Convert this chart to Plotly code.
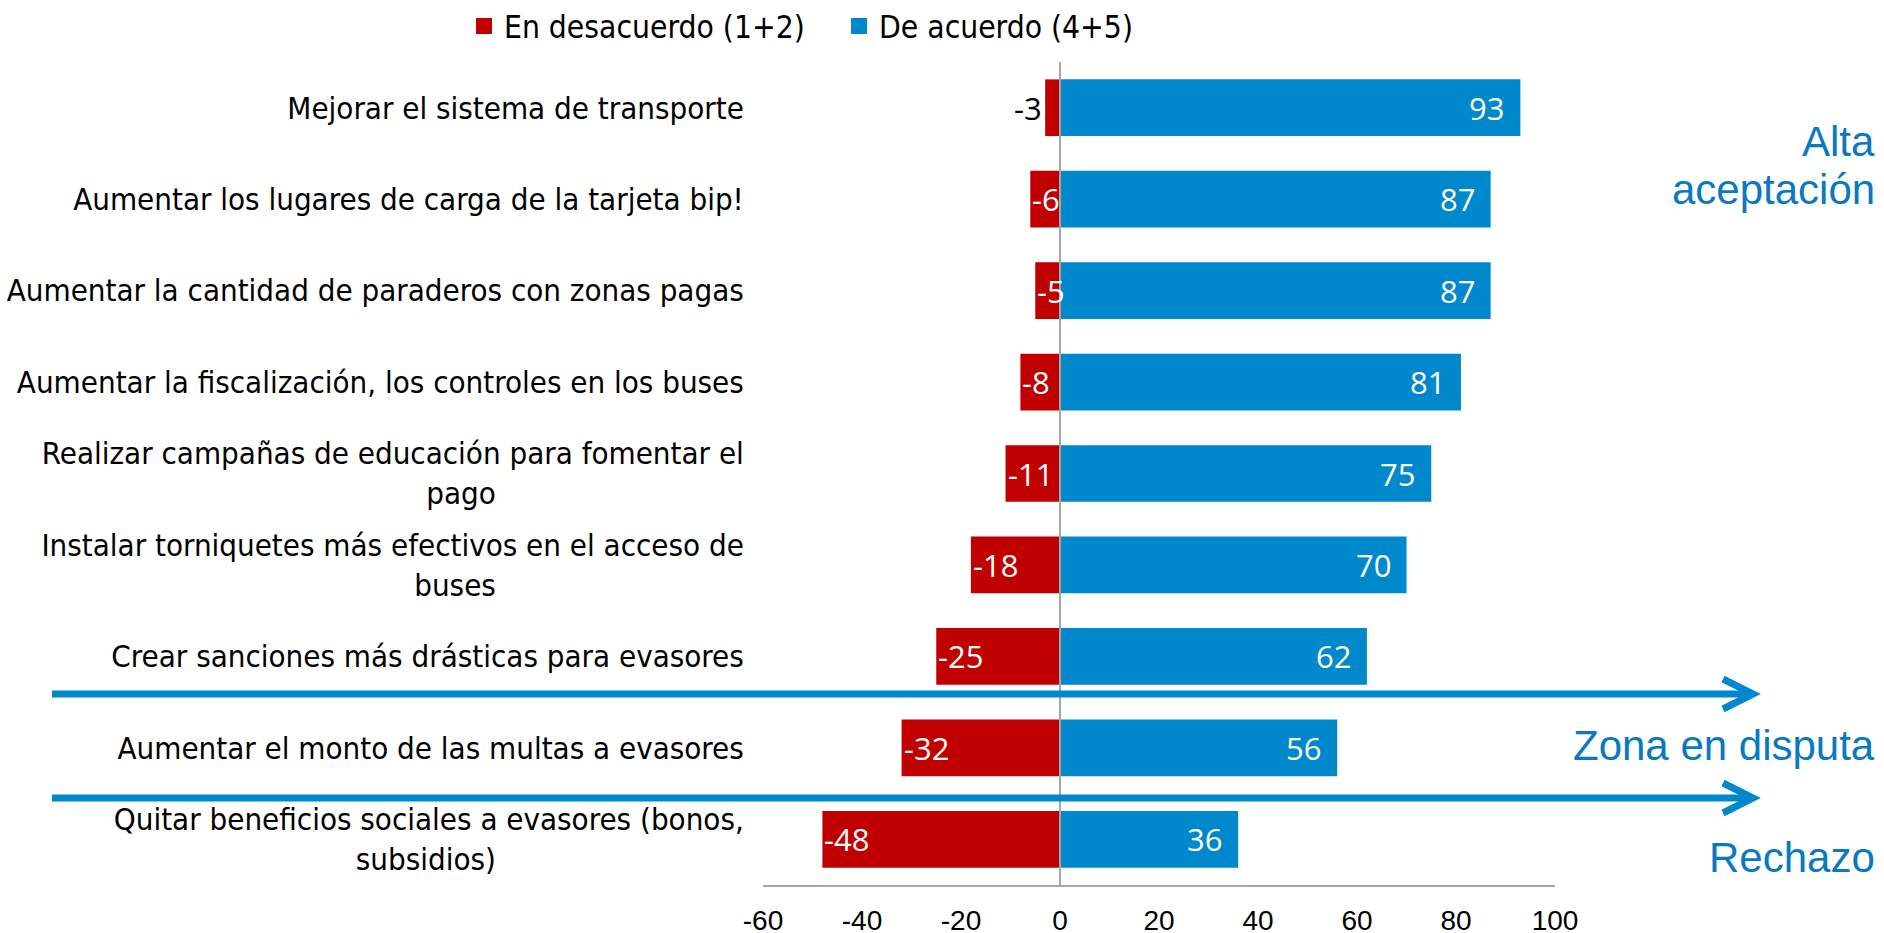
import plotly.graph_objects as go

# ---------------- data ----------------
categories = [
    "Mejorar el sistema de transporte",
    "Aumentar los lugares de carga de la tarjeta bip!",
    "Aumentar la cantidad de paraderos con zonas pagas",
    "Aumentar la fiscalización, los controles en los buses",
    "Realizar campañas de educación para fomentar el<br>pago",
    "Instalar torniquetes más efectivos en el acceso de<br>buses",
    "Crear sanciones más drásticas para evasores",
    "Aumentar el monto de las multas a evasores",
    "Quitar beneficios sociales a evasores (bonos,<br>subsidios)",
]
desacuerdo = [-3, -6, -5, -8, -11, -18, -25, -32, -48]
acuerdo = [93, 87, 87, 81, 75, 70, 62, 56, 36]
series_names = ["En desacuerdo (1+2)", "De acuerdo (4+5)"]
x_ticks = [-60, -40, -20, 0, 20, 40, 60, 80, 100]
zone_labels = ["Alta", "aceptación", "Zona en disputa", "Rechazo"]

# ---------------- style ----------------
RED = "#C00000"
BLUE = "#0088CC"
TXT_BLUE = "#0A78C2"
GRAY = "#A6A6A6"
LABEL_FONT = "DejaVu Sans Condensed, DejaVu Sans, sans-serif"
NUM_FONT = "Open Sans, Segoe UI, sans-serif"
ARIAL = "Liberation Sans, Arial, sans-serif"

W, H = 1884, 933
ML, MR, MT, MB = 763, 329, 62, 48
PW, PH = W - ML - MR, H - MT - MB


def px_x(x):
    return (x - ML) / PW


def px_y(y):
    return 1 - (y - MT) / PH


# second lines of wrapped labels are pushed left with non-breaking spaces
LINE2_PAD = "\u00a0" * 28
ticktext = [c + (LINE2_PAD if "<br>" in c else "") for c in categories]

fig = go.Figure()
for name, vals, col in [(series_names[0], desacuerdo, RED), (series_names[1], acuerdo, BLUE)]:
    fig.add_trace(go.Bar(y=categories, x=vals, orientation="h", name=name, legendgroup=name,
                         showlegend=False, marker=dict(color=col, line=dict(width=0)),
                         width=0.62))
    # legend entry with a larger square swatch
    fig.add_trace(go.Scatter(x=[None], y=[None], mode="markers", name=name, legendgroup=name,
                             marker=dict(symbol="square", size=16, color=col),
                             showlegend=True, hoverinfo="skip"))

annotations = []
for c, v in zip(categories, desacuerdo):
    if abs(v) < 4:
        annotations.append(dict(x=v, y=c, xref="x", yref="y", text=str(v), showarrow=False,
                                xanchor="right", yanchor="middle", xshift=-1,
                                font=dict(family=NUM_FONT, size=31, color="black")))
    else:
        annotations.append(dict(x=v, y=c, xref="x", yref="y", text=str(v), showarrow=False,
                                xanchor="left", yanchor="middle", xshift=0,
                                font=dict(family=NUM_FONT, size=31, color="white")))
for c, v in zip(categories, acuerdo):
    annotations.append(dict(x=v, y=c, xref="x", yref="y", text=str(v), showarrow=False,
                            xanchor="right", yanchor="middle", xshift=-14,
                            font=dict(family=NUM_FONT, size=31, color="white")))

zone_y_px = [141, 189, 745, 857]
for t, yp in zip(zone_labels, zone_y_px):
    annotations.append(dict(x=px_x(1877), y=px_y(yp), xref="paper", yref="paper", text=t,
                            showarrow=False, xanchor="right", yanchor="middle",
                            font=dict(family=ARIAL, size=42, color=TXT_BLUE)))

shapes = [dict(type="line", xref="x", yref="paper", x0=0, x1=0, y0=0, y1=1,
               line=dict(color=GRAY, width=2), layer="above")]
for yp in [694, 798]:
    y = px_y(yp)
    shapes.append(dict(type="line", xref="paper", yref="paper", x0=px_x(52), x1=px_x(1748),
                       y0=y, y1=y, line=dict(color=BLUE, width=7), layer="above"))
    xb, xt, dy = px_x(1723), px_x(1753), 15 / PH
    shapes.append(dict(type="path", xref="paper", yref="paper",
                       path=f"M {xb} {y + dy} L {xt} {y} L {xb} {y - dy}",
                       line=dict(color=BLUE, width=7), layer="above"))

fig.update_layout(
    width=W, height=H, autosize=False,
    margin=dict(l=ML, r=MR, t=MT, b=MB, pad=0, autoexpand=False),
    barmode="relative",
    plot_bgcolor="white", paper_bgcolor="white",
    xaxis=dict(range=[-60, 100], tickvals=x_ticks, ticktext=[str(t) for t in x_ticks],
               showgrid=False, zeroline=False, showline=True, linecolor=GRAY, linewidth=2,
               ticks="outside", ticklen=9, tickcolor="rgba(0,0,0,0)", automargin=False,
               tickfont=dict(family=ARIAL, size=28, color="black")),
    yaxis=dict(type="category", categoryorder="array", categoryarray=categories,
               autorange="reversed", tickvals=categories, ticktext=ticktext,
               showgrid=False, zeroline=False, showline=False, automargin=False,
               ticks="outside", ticklen=12, tickcolor="rgba(0,0,0,0)",
               tickfont=dict(family=LABEL_FONT, size=31, color="black")),
    legend=dict(orientation="h", x=px_x(464), xanchor="left", y=px_y(26), yanchor="middle",
                font=dict(family=LABEL_FONT, size=31.5, color="black"), traceorder="normal",
                entrywidth=330, entrywidthmode="pixels", itemsizing="trace",
                bgcolor="rgba(0,0,0,0)"),
    annotations=annotations,
    shapes=shapes,
    showlegend=True,
)

fig.write_html(
    "out.html",
    config={"displayModeBar": False},
    post_script="document.body.style.margin='0';document.body.style.overflow='hidden';",
)
